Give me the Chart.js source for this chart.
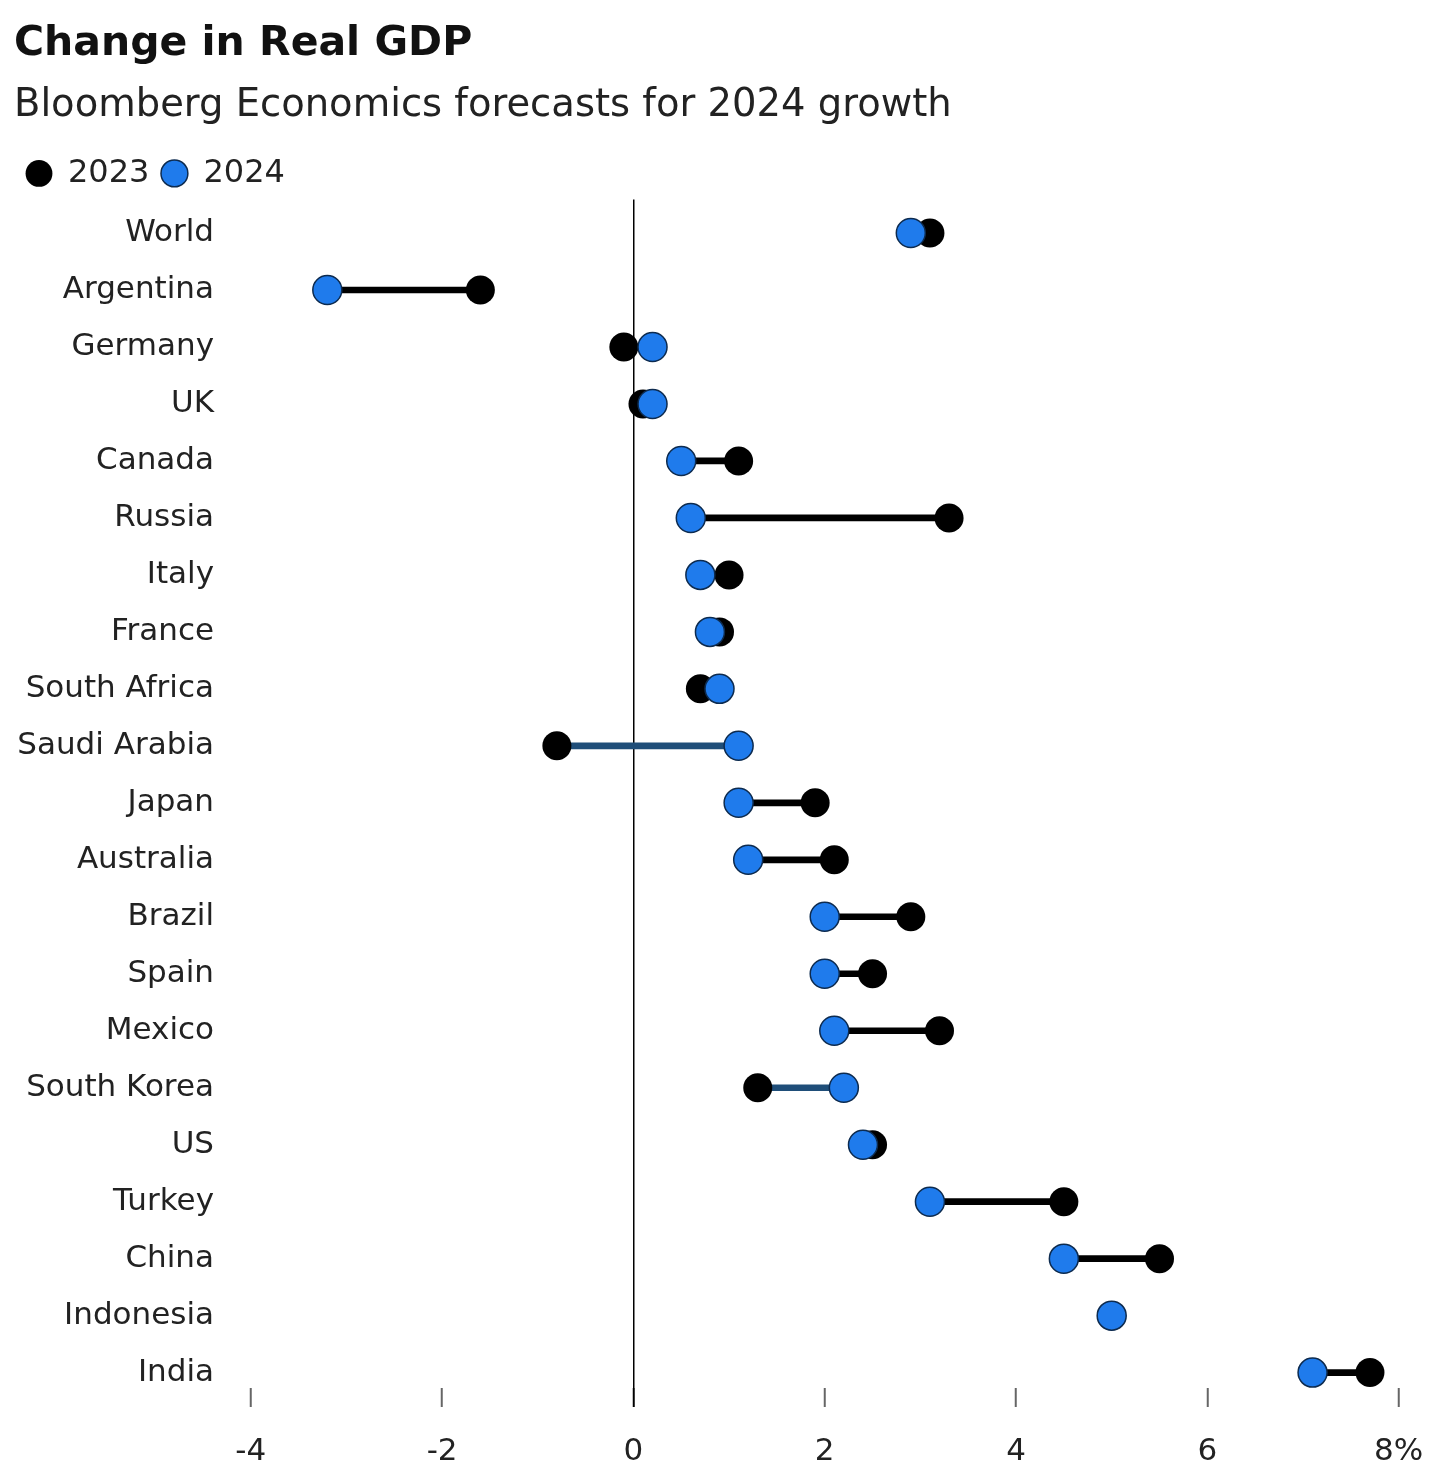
<!DOCTYPE html>
<html lang="en">
<head>
<meta charset="UTF-8">
<title>Change in Real GDP</title>
<script src="https://cdn.jsdelivr.net/npm/chart.js"></script>
<style>
    html, body {
        margin: 0;
        padding: 0;
        background: #fff;
    }
    #wrap {
        width: 1429px;
        height: 1470px;
        position: relative;
    }
</style>
</head>
<body>
<div id="wrap">
    <canvas id="gdpChart"></canvas>
</div>

<script>
    // Data (% change in real GDP)
    const countries = ['World', 'Argentina', 'Germany', 'UK', 'Canada', 'Russia', 'Italy', 'France',
        'South Africa', 'Saudi Arabia', 'Japan', 'Australia', 'Brazil', 'Spain', 'Mexico',
        'South Korea', 'US', 'Turkey', 'China', 'Indonesia', 'India'];
    const gdp2023 = [3.1, -1.6, -0.1, 0.1, 1.1, 3.3, 1.0, 0.9, 0.7, -0.8, 1.9, 2.1, 2.9, 2.5, 3.2, 1.3, 2.5, 4.5, 5.5, 5.0, 7.7];
    const gdp2024 = [2.9, -3.2, 0.2, 0.2, 0.5, 0.6, 0.7, 0.8, 0.9, 1.1, 1.1, 1.2, 2.0, 2.0, 2.1, 2.2, 2.4, 3.1, 4.5, 5.0, 7.1];
    const xTickValues = [-4, -2, 0, 2, 4, 6, 8];
    const xTickLabels = ['-4', '-2', '0', '2', '4', '6', '8%'];

    const FONT = "'DejaVu Sans', sans-serif";
    const BLUE = '#1f7bec';
    const NAVY = '#1f4e79';

    // connector bar: black when growth slows, navy when it picks up
    const connectorColors = gdp2023.map((v, i) => gdp2024[i] > v ? NAVY : '#000');

    const ctx = document.getElementById('gdpChart').getContext('2d');

    new Chart(ctx, {
        type: 'bar',
        data: {
            datasets: [
                {
                    type: 'scatter',
                    label: '2024',
                    data: countries.map((c, i) => ({ x: gdp2024[i], y: i })),
                    backgroundColor: BLUE,
                    borderColor: '#0d2b4f',
                    borderWidth: 1.5,
                    pointRadius: 14.5,
                    order: 0
                },
                {
                    type: 'scatter',
                    label: '2023',
                    data: countries.map((c, i) => ({ x: gdp2023[i], y: i })),
                    backgroundColor: '#000',
                    borderColor: '#000',
                    borderWidth: 0,
                    pointRadius: 14.5,
                    order: 1
                },
                {
                    type: 'bar',
                    label: 'change',
                    indexAxis: 'y',
                    data: countries.map((c, i) => ({ y: i, x: [gdp2023[i], gdp2024[i]] })),
                    backgroundColor: connectorColors,
                    borderWidth: 0,
                    barThickness: 6,
                    order: 2
                }
            ]
        },
        options: {
            responsive: true,
            maintainAspectRatio: false,
            animation: false,
            events: [],
            layout: {
                padding: { left: 14, right: 9, top: 0, bottom: 0 }
            },
            plugins: {
                title: {
                    display: true,
                    text: 'Change in Real GDP',
                    align: 'start',
                    color: '#111',
                    font: { family: FONT, size: 41, weight: 'bold' },
                    padding: { top: 20, bottom: 14 }
                },
                subtitle: {
                    display: true,
                    text: 'Bloomberg Economics forecasts for 2024 growth',
                    align: 'start',
                    color: '#222',
                    font: { family: FONT, size: 38.5 },
                    padding: { top: 0, bottom: 16 }
                },
                legend: {
                    display: true,
                    position: 'top',
                    align: 'start',
                    reverse: true,
                    labels: {
                        usePointStyle: true,
                        pointStyle: 'circle',
                        boxWidth: 26,
                        boxHeight: 19,
                        padding: 12,
                        color: '#222',
                        font: { family: FONT, size: 32 },
                        filter: (item) => item.text !== 'change'
                    }
                },
                tooltip: { enabled: false }
            },
            scales: {
                x: {
                    type: 'linear',
                    position: 'bottom',
                    offset: false,
                    min: -4.28,
                    max: 8.15,
                    afterBuildTicks: (scale) => {
                        scale.ticks = xTickValues.map(v => ({ value: v }));
                    },
                    afterFit: (scale) => {
                        scale.height = 82;
                        scale.paddingLeft = 0;
                        scale.paddingRight = 0;
                    },
                    border: { display: false },
                    grid: {
                        offset: false,
                        drawOnChartArea: true,
                        drawTicks: true,
                        tickLength: 19,
                        lineWidth: 1.5,
                        tickWidth: 2,
                        color: (c) => c.tick && c.tick.value === 0 ? '#000' : 'rgba(0,0,0,0)',
                        tickColor: (c) => c.tick && c.tick.value === 0 ? '#000' : '#666'
                    },
                    ticks: {
                        color: '#222',
                        padding: 26,
                        maxRotation: 0,
                        font: { family: FONT, size: 31 },
                        callback: (value) => xTickLabels[xTickValues.indexOf(value)]
                    }
                },
                y: {
                    type: 'linear',
                    reverse: true,
                    offset: false,
                    min: -0.59,
                    max: 20.27,
                    afterBuildTicks: (scale) => {
                        scale.ticks = countries.map((c, i) => ({ value: i }));
                    },
                    afterFit: (scale) => {
                        scale.width = 210;
                        scale.paddingTop = 0;
                        scale.paddingBottom = 0;
                    },
                    border: { display: false },
                    grid: { display: false, drawTicks: false, offset: false },
                    ticks: {
                        color: '#222',
                        padding: 10,
                        font: { family: FONT, size: 31 },
                        callback: (value) => countries[value]
                    }
                }
            }
        }
    });
</script>
</body>
</html>
